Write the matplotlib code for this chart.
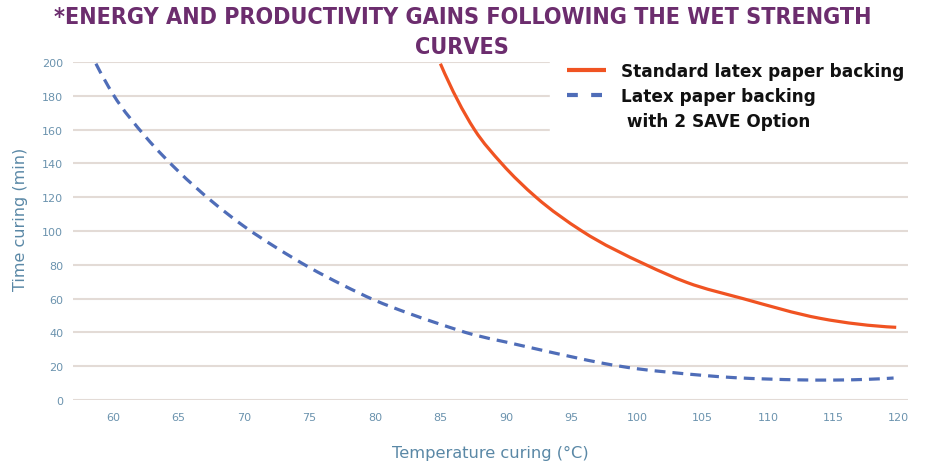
import matplotlib
matplotlib.use("Agg")
import matplotlib.pyplot as plt
from matplotlib.lines import Line2D
from matplotlib.path import Path
from matplotlib.patches import PathPatch

# Data
std_temp = [85, 87.6, 89.67, 92.3, 95.8, 100.7, 103.8, 108.1, 114, 119.8]
std_time = [199, 160, 140, 120, 100, 80, 69.6, 60, 48.3, 43]

save_temp = [58.7, 60, 62.5, 65, 67.5, 70, 72.5, 75, 77.5, 80, 82.5, 85, 87.5, 90,
             92.5, 95, 97.5, 100, 102.5, 105, 107.5, 110, 112.5, 115, 117.5, 119.6]
save_time = [199, 181, 155.7, 135.3, 117.9, 102.8, 90, 78.4, 68.2, 59, 51.5, 44.8, 38.7, 34.3,
             29.9, 25.6, 21.6, 18.5, 16.4, 14.6, 13.2, 12.4, 11.9, 11.8, 12.2, 13]

x_ticks = [60, 65, 70, 75, 80, 85, 90, 95, 100, 105, 110, 115, 120]
y_ticks = [0, 20, 40, 60, 80, 100, 120, 140, 160, 180, 200]

title = "*ENERGY AND PRODUCTIVITY GAINS FOLLOWING THE WET STRENGTH\nCURVES"
xlabel = "Temperature curing (°C)"
ylabel = "Time curing (min)"
label_std = "Standard latex paper backing"
label_save_1 = "Latex paper backing"
label_save_2 = " with 2 SAVE Option"

RED = "#F05322"
BLUE = "#4F6DB8"
GRID = "#E3DBD6"
AXIS_TXT = "#6B93AE"
LABEL_TXT = "#5A88A6"
PURPLE = "#6C2D6E"

plt.rcParams['font.family'] = ['DejaVu Sans']


def smooth_path(xs, ys):
    """Smoothed line (like Excel's 'smoothed line'): cubic Bezier segments
    passing through every data point, tangents from neighbouring points."""
    n = len(xs)
    h = [xs[i + 1] - xs[i] for i in range(n - 1)]
    d = [(ys[i + 1] - ys[i]) / h[i] for i in range(n - 1)]
    m = [0.0] * n
    for i in range(1, n - 1):
        m[i] = (d[i - 1] * h[i] + d[i] * h[i - 1]) / (h[i - 1] + h[i])
    m[0] = ((2 * h[0] + h[1]) * d[0] - h[0] * d[1]) / (h[0] + h[1])
    m[-1] = ((2 * h[-1] + h[-2]) * d[-1] - h[-1] * d[-2]) / (h[-1] + h[-2])
    verts = [(xs[0], ys[0])]
    codes = [Path.MOVETO]
    for i in range(n - 1):
        c1 = (xs[i] + h[i] / 3, ys[i] + m[i] * h[i] / 3)
        c2 = (xs[i + 1] - h[i] / 3, ys[i + 1] - m[i + 1] * h[i] / 3)
        verts += [c1, c2, (xs[i + 1], ys[i + 1])]
        codes += [Path.CURVE4] * 3
    return Path(verts, codes)


fig = plt.figure(figsize=(9.33, 4.64), dpi=100)
ax = fig.add_axes([73/933, 1 - 401/464, (908-73)/933, (401-63)/464])

ax.add_patch(PathPatch(smooth_path(save_temp, save_time), fill=False, edgecolor=BLUE,
                       lw=2.3, linestyle=(0, (3.4, 2.2)), capstyle='butt',
                       clip_on=False, zorder=3))
ax.add_patch(PathPatch(smooth_path(std_temp, std_time), fill=False, edgecolor=RED,
                       lw=2.3, capstyle='butt', clip_on=False, zorder=3))

ax.set_xlim(56.95, 120.7)
ax.set_ylim(0, 200)
ax.set_xticks(x_ticks)
ax.set_yticks(y_ticks)
ax.grid(axis='y', color=GRID, lw=1.5, zorder=0)
ax.set_axisbelow(True)
for s in ax.spines.values():
    s.set_visible(False)
ax.tick_params(axis='both', length=0, labelsize=8, labelcolor=AXIS_TXT)
ax.tick_params(axis='x', pad=9)
ax.tick_params(axis='y', pad=7)

ax.set_xlabel(xlabel, fontsize=11.7, color=LABEL_TXT, labelpad=16)
ax.set_ylabel(ylabel, fontsize=11.5, color=LABEL_TXT)
ax.yaxis.set_label_coords(-0.054, 0.538)

handles = [Line2D([], [], color=RED, lw=3.0, solid_capstyle='butt'),
           Line2D([], [], color=BLUE, lw=3.0, linestyle=(0, (2.6, 3.2)),
                  dash_capstyle='butt'),
           Line2D([], [], color='none', lw=0)]
leg = ax.legend(handles, [label_std, label_save_1, label_save_2],
                loc='upper left', bbox_to_anchor=(550/933, 1 - 46/464),
                bbox_transform=fig.transFigure, frameon=True, fancybox=False,
                edgecolor='white', facecolor='white', framealpha=1,
                fontsize=12.2, handlelength=2.3, handletextpad=0.9,
                labelspacing=0.42, borderpad=1.0, borderaxespad=0)
for t in leg.get_texts():
    t.set_fontweight('semibold')
    t.set_color('#111111')
leg.set_zorder(5)

fig.text(0.4955, 1 - 6/464, title, ha='center', va='top', fontsize=16.75,
         fontweight='bold', color=PURPLE, fontstretch='condensed',
         linespacing=1.37)

fig.savefig("out.png", dpi=100)
